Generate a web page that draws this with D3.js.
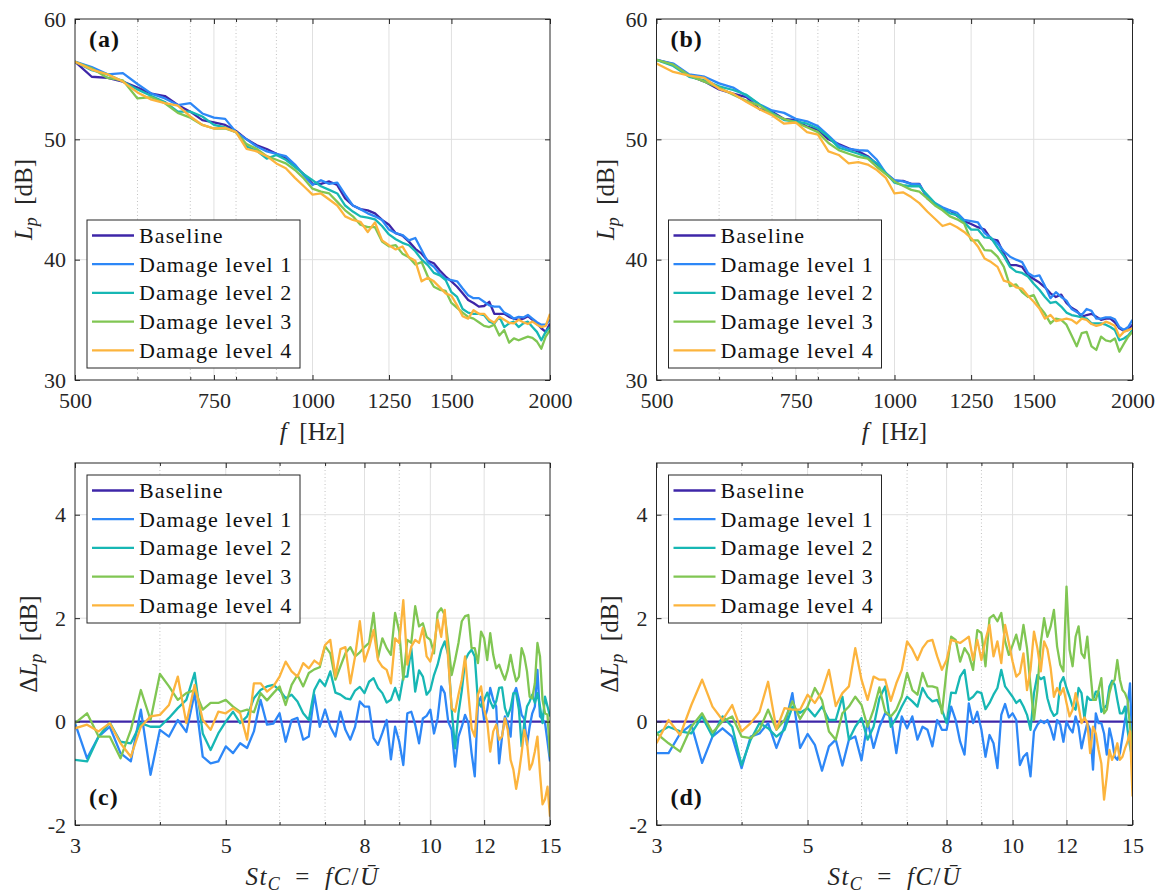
<!DOCTYPE html>
<html>
<head>
<meta charset="utf-8">
<script src="https://cdn.jsdelivr.net/npm/d3@7"></script>
<style>
  html, body { margin: 0; padding: 0; background: #fff; }
  svg { display: block; }
</style>
</head>
<body>
<div id="viz-container"></div>
<script>
// ---------- data ----------
const seriesNames = ["Baseline", "Damage level 1", "Damage level 2", "Damage level 3", "Damage level 4"];
const seriesColors = ["#3e26a8", "#2d87f7", "#17b7b4", "#80c653", "#fcb43d"];

// frequency grid (Hz) of the spectra, 25 Hz steps
const freqHz = d3.range(500, 2000 + 1, 25);
// Strouhal grid of the level differences
const stC = d3.range(3, 15 + 1e-9, 0.125);
// baseline difference is zero over the whole band
const stEnds = [3, 15];
const dlpBaseline = [0, 0];

// tick labels
const lpTicks = [30, 40, 50, 60];
const fTicks = [500, 750, 1000, 1250, 1500, 2000];
const fMinor = [600, 700, 800, 900];
const dlpTicks = [-2, 0, 2, 4];
const stTicks = [3, 5, 8, 10, 12, 15];
const stMinor = [4, 6, 7, 9];

// (a) Lp [dB]
const lpA_baseline = [56.45,55.2,55.1,54.8,54.3,53.8,53.6,52.85,52.3,51.6,51.4,51.2,50.7,50.0,49.5,49.2,48.8,48.4,47.8,47.1,
  46.3,46.3,46.5,46.2,45.1,44.5,44.2,44.1,43.85,43.3,42.9,42.2,42.0,41.5,40.9,40.5,39.9,39.7,39.1,38.6,
  38.2,37.75,37.2,36.65,36.4,36.1,36.15,36.5,35.5,35.5,35.5,35.25,35.1,35.0,35.1,35.3,35.0,34.7,34.3,34.0,34.7];
const lpA_dl1 = [56.45,56.0,55.4,55.5,54.6,53.8,53.4,52.85,53.0,52.15,51.8,51.7,50.6,50.0,49.4,49.0,48.8,48.6,47.9,47.0,
  46.2,46.6,46.3,46.4,45.4,44.5,44.2,43.85,43.6,43.3,42.5,42.2,42.05,41.6,41.8,40.8,39.8,39.4,38.8,38.4,
  38.3,38.2,37.6,37.05,36.8,36.8,36.5,36.2,36.1,36.1,35.6,35.4,35.1,35.25,35.2,35.4,35.1,34.8,34.6,34.6,35.0];
const lpA_dl2 = [56.45,55.75,55.4,54.8,54.15,53.6,53.1,52.3,52.3,51.9,51.2,51.0,50.6,49.4,49.05,48.4,48.7,48.3,47.7,47.1,
  46.6,46.1,45.8,45.5,44.5,44.0,43.6,43.5,43.35,42.8,42.1,41.7,41.4,41.2,40.7,40.0,39.55,38.9,38.7,38.3,
  37.3,36.9,35.9,35.6,35.5,35.5,35.4,34.85,34.7,35.25,34.4,34.7,34.85,34.4,34.7,34.85,34.4,34.0,33.3,34.0,34.4];
const lpA_dl3 = [56.45,55.9,55.1,54.9,53.4,53.5,53.0,52.2,51.8,51.2,50.9,50.9,50.6,49.6,49.2,48.6,48.3,48.0,47.45,46.75,
  45.9,45.65,45.5,44.8,44.1,43.6,42.9,42.7,42.7,41.5,41.1,41.2,40.5,40.2,39.6,39.8,38.6,37.75,37.5,37.4,
  36.4,36.0,35.6,35.25,35.1,34.8,34.5,34.4,34.6,33.7,34.15,33.1,33.46,33.3,33.46,33.6,33.5,33.2,32.6,33.6,34.15];
const lpA_dl4 = [56.45,55.8,55.4,54.8,53.9,53.3,53.0,52.8,51.9,51.2,50.9,50.95,50.6,49.2,49.0,48.6,48.0,47.6,46.8,46.1,
  45.4,45.5,45.0,44.5,43.6,43.3,43.15,42.3,43.1,41.6,41.2,40.85,41.1,40.2,39.9,38.2,38.5,38.2,37.7,37.2,
  37.0,36.2,35.3,35.1,35.8,35.5,35.5,35.0,34.75,35.25,35.0,34.75,34.7,35.0,34.8,34.65,34.85,34.6,34.4,34.5,35.5];

// (b) Lp [dB]
const lpB_baseline = [56.6,56.25,55.3,54.8,54.15,53.8,53.5,52.5,52.3,51.7,51.6,51.05,50.8,50.0,49.6,49.25,49.0,48.6,47.95,47.2,
  46.55,46.55,46.3,46.3,45.1,44.6,44.2,44.1,43.65,43.2,42.96,42.7,42.5,41.7,41.6,40.5,39.55,39.55,39.4,38.7,
  38.4,38.1,37.7,37.2,36.9,37.1,36.4,36.0,35.75,35.25,35.4,35.5,35.25,35.0,35.1,35.1,34.8,34.3,34.1,34.15,34.6];
const lpB_dl1 = [56.6,56.3,55.4,55.2,54.65,54.3,53.6,52.9,52.4,52.2,51.7,51.5,51.1,50.3,49.5,49.2,49.1,49.05,48.3,47.2,
  46.6,46.5,46.3,46.25,45.2,44.7,44.35,44.1,43.9,43.3,43.2,43.1,42.2,41.8,41.35,40.7,40.25,40.0,39.8,38.9,
  38.6,38.7,37.8,36.8,37.3,36.9,36.6,35.9,35.65,35.4,35.9,35.75,35.1,35.1,35.2,35.2,35.05,34.4,34.15,34.4,35.0];
const lpB_dl2 = [56.6,56.1,55.2,54.9,54.4,54.1,53.7,52.9,52.2,51.6,51.5,51.3,50.9,50.2,49.3,49.05,48.8,48.5,48.0,47.2,
  46.4,46.2,46.1,46.1,45.4,44.7,44.2,43.85,43.7,43.1,42.5,42.5,41.85,41.8,41.0,40.3,39.4,39.0,38.9,38.6,
  38.0,37.5,36.9,36.4,36.5,36.1,35.6,35.4,35.3,35.2,35.1,34.7,34.7,34.7,34.6,34.4,34.15,33.3,33.45,33.7,34.15];
const lpB_dl3 = [56.6,56.2,55.3,54.8,54.3,53.7,53.2,52.8,52.1,51.7,51.4,51.0,50.6,49.7,49.1,48.8,48.55,48.4,47.7,47.1,
  46.5,46.15,45.8,45.65,45.1,44.5,44.1,43.6,43.35,43.0,41.6,41.6,40.8,40.75,40.25,39.4,37.8,37.95,37.3,36.9,
  37.05,36.1,35.5,34.7,35.1,35.0,34.6,33.7,32.8,33.9,34.0,32.8,32.5,33.6,33.3,33.2,33.45,32.35,33.0,33.6,34.0];
const lpB_dl4 = [56.3,55.6,55.3,55.1,54.2,53.8,53.1,52.5,52.0,51.3,51.4,50.6,50.4,49.0,48.7,48.0,48.1,47.9,47.45,46.8,
  45.5,45.6,45.2,44.7,44.0,43.4,42.8,43.0,42.7,42.3,41.8,41.1,40.1,39.8,39.4,38.25,38.1,37.7,37.6,37.0,
  36.5,35.95,35.1,35.4,34.9,35.0,35.1,35.0,34.7,35.1,35.0,34.65,34.5,34.6,34.85,34.7,34.5,33.6,34.0,34.15,34.3];

// (c) delta Lp [dB]
const dlpC_dl1 = [-0.03,-0.71,-0.29,-0.10,-0.61,-0.77,0.23,-1.03,
  -0.16,-0.29,0.03,-0.20,0.55,-0.68,-0.81,-0.77,
  -0.48,-0.61,-0.42,-0.51,-0.19,0.42,-0.06,-0.04,
  0.16,-0.39,0.03,0.07,-0.35,-0.29,0.52,-0.10,
  0.23,-0.10,-0.29,0.19,-0.16,-0.35,-0.10,0.39,
  0.29,0.29,-0.32,-0.45,-0.22,0.03,-0.73,-0.10,
  -0.39,-0.84,0.16,0.19,-0.06,-0.42,0.06,0.11,
  0.23,-0.23,0.06,0.68,0.55,0.00,-0.16,-0.87,
  -0.29,-0.10,0.13,-0.03,-0.61,-1.06,0.36,0.48,
  0.03,0.23,0.65,0.42,0.29,-0.81,-0.29,0.10,
  -0.03,-0.29,0.52,0.65,0.42,0.13,0.05,-0.45,
  -0.10,0.16,0.29,1.00,0.10,0.05,-0.03,-0.39,
  -0.77];
const dlpC_dl2 = [-0.74,-0.77,-0.29,-0.02,-0.39,-0.42,-0.03,-0.10,
  -0.10,0.07,0.26,0.42,0.94,-0.23,-0.55,-0.23,
  0.00,0.19,-0.03,0.10,0.45,0.61,0.68,0.71,
  0.61,0.45,0.52,0.39,0.16,0.03,0.61,0.81,
  0.69,0.97,0.56,0.52,0.45,0.43,0.60,0.67,
  0.55,0.77,0.84,0.65,0.55,0.37,0.42,0.65,
  0.42,0.87,0.87,1.42,0.58,0.99,0.87,0.52,
  0.61,0.90,1.10,1.39,1.55,1.29,0.23,-0.52,
  0.16,0.60,1.18,1.31,1.39,1.26,0.39,0.29,
  0.42,0.56,0.39,0.26,0.39,0.65,0.66,0.26,
  0.10,0.26,0.55,0.55,0.23,-0.48,-0.03,0.29,
  0.39,0.52,0.36,0.55,0.29,-0.03,0.48,0.29,
  0.10];
const dlpC_dl3 = [-0.03,0.16,-0.29,-0.29,-0.71,-0.16,0.61,0.03,
  0.92,0.68,0.42,0.55,0.61,0.23,0.36,0.36,
  0.42,0.29,0.19,0.23,0.18,0.55,0.41,0.55,
  0.68,0.32,0.71,0.90,0.68,0.94,1.01,1.05,
  1.46,1.32,0.81,1.07,1.32,1.44,1.26,1.34,
  1.44,1.52,2.10,1.23,1.61,1.42,1.29,2.10,
  1.74,0.81,1.58,1.52,2.23,1.84,1.90,1.64,
  1.58,1.32,2.10,2.19,2.06,1.52,0.90,1.19,
  1.52,1.94,2.04,2.06,1.42,1.42,1.13,1.74,
  1.61,1.19,1.71,1.29,1.03,1.10,0.94,0.81,
  1.00,1.29,1.00,0.78,0.87,1.42,1.26,0.97,
  0.48,0.45,0.74,1.52,1.26,0.42,0.16,0.13,
  -0.68];
const dlpC_dl4 = [-0.13,-0.06,-0.19,-0.03,-0.42,-0.68,-0.10,0.10,
  0.13,0.32,0.87,-0.03,0.71,0.03,-0.16,0.19,
  0.16,0.26,0.16,-0.35,0.74,0.74,0.58,0.68,
  0.87,1.16,0.97,0.87,1.13,1.03,1.18,1.10,
  1.48,1.58,0.87,1.40,1.44,0.74,1.26,1.94,
  1.16,1.42,1.77,1.19,1.06,1.00,0.74,1.61,
  1.52,2.35,1.10,1.45,1.58,1.52,1.81,1.26,
  1.16,1.45,1.97,1.64,2.16,1.19,0.26,0.19,
  0.52,0.81,1.26,0.55,-0.13,-0.29,0.52,0.68,
  0.23,0.00,-0.58,-0.19,-0.06,-0.35,-0.29,0.06,
  -0.16,-0.74,-0.93,-1.30,-1.00,-0.61,-0.16,-0.39,
  -0.93,-0.81,-0.58,-0.29,-1.00,-1.60,-1.50,-1.26,
  -1.84];

// (d) delta Lp [dB]
const dlpD_dl1 = [-0.61,-0.61,-0.23,-0.06,-0.80,-0.29,-0.13,-0.29,
  -0.90,-0.29,-0.23,-0.03,-0.51,-0.10,0.55,-0.51,
  -0.24,-0.45,-0.95,-0.48,-0.35,-0.85,-0.35,-0.29,
  -0.75,0.00,-0.51,-0.10,0.16,0.10,-0.61,0.10,
  -0.13,0.10,-0.35,-0.10,-0.16,-0.48,0.03,-0.16,
  -0.16,0.29,0.03,-0.39,-0.64,0.35,-0.03,0.19,
  -0.16,-0.68,-0.26,-0.42,-0.90,0.13,0.34,0.08,
  0.16,0.03,-0.84,-0.68,-0.61,-1.06,-0.19,-0.06,
  0.02,-0.03,0.03,-0.13,-0.35,0.03,-0.06,-0.39,
  0.00,-0.13,-0.21,0.10,-0.10,-0.52,-0.26,-0.03,
  -0.16,-0.93,0.16,-0.03,-0.03,-0.23,-0.64,-0.13,
  -0.35,-0.68,-0.74,-0.61,-0.29,0.03,0.29,0.74,
  -0.61];
const dlpD_dl2 = [-0.23,-0.10,-0.19,-0.23,0.10,-0.29,0.10,-0.10,
  -0.84,-0.35,-0.03,-0.13,-0.29,-0.16,0.29,0.17,
  0.26,0.10,0.29,0.03,0.03,0.48,-0.35,-0.10,
  0.07,-0.35,-0.10,0.45,0.68,-0.10,0.07,0.29,
  0.48,0.39,0.29,0.65,0.48,0.39,0.42,0.23,
  -0.03,0.56,0.55,0.87,1.00,0.42,0.48,0.58,
  0.55,0.24,0.36,0.52,0.65,1.00,0.68,0.58,
  0.48,0.36,0.42,0.29,0.13,-0.16,0.55,0.90,
  0.82,0.86,0.45,0.23,0.11,0.16,0.74,0.86,
  0.65,0.48,0.29,0.23,0.65,0.55,0.06,0.48,
  0.42,0.42,0.58,0.58,0.19,0.26,0.32,0.68,
  0.79,0.71,0.42,0.16,0.16,0.29,-0.16,-0.48,
  -0.74];
const dlpD_dl3 = [-0.23,-0.42,-0.58,-0.10,0.16,-0.21,0.00,0.10,
  -0.29,-0.32,-0.16,0.23,-0.16,0.03,0.39,0.05,
  0.29,0.65,0.41,-0.19,-0.35,0.16,0.29,0.48,
  0.32,-0.10,0.23,0.66,0.19,0.10,0.23,0.48,
  0.94,0.61,0.52,0.94,0.68,0.68,0.65,0.16,
  1.00,1.64,1.58,1.16,1.42,1.29,1.00,1.77,
  1.71,1.07,2.00,2.06,1.94,2.10,1.55,1.29,
  1.48,1.68,1.39,1.87,1.42,0.68,0.03,0.61,
  1.52,2.00,1.64,1.84,2.16,1.45,1.10,0.97,
  2.61,1.39,1.07,1.64,1.84,1.32,1.23,1.64,
  1.00,0.42,0.42,0.61,0.84,0.16,0.23,0.55,
  0.74,0.81,1.19,0.81,0.61,0.55,0.42,-0.10,
  -0.48];
const dlpD_dl4 = [-0.42,0.03,-0.26,0.32,0.81,0.29,0.03,0.32,
  -0.19,-0.03,0.19,0.77,-0.15,0.26,0.23,0.23,
  0.52,0.36,0.58,1.00,0.30,0.55,0.68,1.42,
  0.81,0.42,0.87,0.81,0.81,0.40,0.74,1.00,
  1.55,1.40,1.19,1.42,1.55,1.58,1.26,1.00,
  1.19,1.58,1.55,1.52,1.58,1.64,1.19,1.58,
  1.19,1.58,1.87,1.26,1.55,1.13,1.87,1.52,
  1.16,0.87,0.94,1.32,0.61,1.00,1.74,1.42,
  0.97,1.55,1.40,1.03,0.48,0.65,0.52,0.65,
  0.36,0.10,0.23,0.55,0.29,-0.03,0.08,-0.03,
  -0.61,-0.10,-0.23,-0.55,-0.81,-1.51,-1.06,-0.55,
  -0.74,-0.61,-0.42,-0.74,-0.68,-0.52,-0.39,-0.19,
  -1.45];

// ---------- drawing ----------
const FONT = '"Liberation Serif", "Times New Roman", serif';
const INK = "#262626";

const svg = d3.select("#viz-container")
    .append("svg")
    .attr("width", 1162)
    .attr("height", 893)
    .attr("font-family", FONT);

function spectra(arrs) {
    return arrs.map(ys => ({ xs: freqHz, ys }));
}
function deltas(arrs) {
    return [{ xs: stEnds, ys: dlpBaseline }].concat(arrs.map(ys => ({ xs: stC, ys })));
}

function labelLp(t) {
    t.append("tspan").attr("font-style", "italic").text("L");
    t.append("tspan").attr("font-style", "italic").attr("font-size", 18).attr("dy", 5).text("p");
    t.append("tspan").attr("dy", -5).text("\u2002[dB]");
}
function labelDeltaLp(t) {
    t.append("tspan").text("\u0394");
    labelLp(t);
}
function labelF(t) {
    t.append("tspan").attr("font-style", "italic").text("f");
    t.append("tspan").text("\u2002[Hz]");
}
function labelSt(t) {
    t.append("tspan").attr("font-style", "italic").text("St");
    t.append("tspan").attr("font-style", "italic").attr("font-size", 18).attr("dy", 5).text("C");
    t.append("tspan").attr("dy", -5).text("\u2002=\u2002");
    t.append("tspan").attr("font-style", "italic").text("fC");
    t.append("tspan").text("/");
    t.append("tspan").attr("font-style", "italic").text("\u016A");
}

function drawPanel(p) {
    const x = d3.scaleLog().domain(p.xDomain).range([p.x0, p.x1]);
    const y = d3.scaleLinear().domain(p.yDomain).range([p.y1, p.y0]);
    const g = svg.append("g");

    // 1. grid
    g.append("g").selectAll("line").data(p.xMinor).join("line")
        .attr("x1", d => x(d)).attr("x2", d => x(d))
        .attr("y1", p.y0).attr("y2", p.y1)
        .attr("stroke", "#c2c2c2").attr("stroke-dasharray", "1,2.5");
    g.append("g").selectAll("line").data(p.xTicks.slice(1, -1)).join("line")
        .attr("x1", d => x(d)).attr("x2", d => x(d))
        .attr("y1", p.y0).attr("y2", p.y1)
        .attr("stroke", "#e0e0e0");
    g.append("g").selectAll("line").data(p.yTicks.filter(v => v > p.yDomain[0] && v < p.yDomain[1])).join("line")
        .attr("x1", p.x0).attr("x2", p.x1)
        .attr("y1", d => y(d)).attr("y2", d => y(d))
        .attr("stroke", "#e0e0e0");

    // 2. series
    const clipId = "clip-" + p.id;
    g.append("clipPath").attr("id", clipId).append("rect")
        .attr("x", p.x0).attr("y", p.y0)
        .attr("width", p.x1 - p.x0).attr("height", p.y1 - p.y0);
    const line = d3.line().x(d => x(d[0])).y(d => y(d[1]));
    g.append("g").attr("clip-path", `url(#${clipId})`)
        .selectAll("path").data(p.series).join("path")
        .attr("fill", "none")
        .attr("stroke", (d, i) => seriesColors[i])
        .attr("stroke-width", 2.3)
        .attr("stroke-linejoin", "round")
        .attr("d", d => line(d3.zip(d.xs, d.ys)));

    // 3. axes, ticks point inward on all four sides
    const fmt = d => String(d);
    const styleAxis = a => a.attr("font-family", FONT).attr("font-size", 22).attr("color", INK)
        .call(s => s.select(".domain").remove());
    g.append("g").attr("transform", `translate(0,${p.y1})`)
        .call(d3.axisBottom(x).tickValues(p.xTicks).tickFormat(fmt).tickSizeInner(-5).tickSizeOuter(0).tickPadding(12))
        .call(styleAxis);
    g.append("g").attr("transform", `translate(0,${p.y1})`)
        .call(d3.axisBottom(x).tickValues(p.xMinor).tickFormat("").tickSizeInner(-3).tickSizeOuter(0))
        .call(styleAxis);
    g.append("g").attr("transform", `translate(0,${p.y0})`)
        .call(d3.axisTop(x).tickValues(p.xTicks).tickFormat("").tickSizeInner(-5).tickSizeOuter(0))
        .call(styleAxis);
    g.append("g").attr("transform", `translate(0,${p.y0})`)
        .call(d3.axisTop(x).tickValues(p.xMinor).tickFormat("").tickSizeInner(-3).tickSizeOuter(0))
        .call(styleAxis);
    g.append("g").attr("transform", `translate(${p.x0},0)`)
        .call(d3.axisLeft(y).tickValues(p.yTicks).tickFormat(fmt).tickSizeInner(-5).tickSizeOuter(0).tickPadding(9))
        .call(styleAxis);
    g.append("g").attr("transform", `translate(${p.x1},0)`)
        .call(d3.axisRight(y).tickValues(p.yTicks).tickFormat("").tickSizeInner(-5).tickSizeOuter(0))
        .call(styleAxis);

    // 4. frame
    g.append("rect")
        .attr("x", p.x0).attr("y", p.y0)
        .attr("width", p.x1 - p.x0).attr("height", p.y1 - p.y0)
        .attr("fill", "none").attr("stroke", INK).attr("stroke-width", 1);

    // 5. axis titles
    g.append("text")
        .attr("x", (p.x0 + p.x1) / 2)
        .attr("y", p.y1 + 60)
        .attr("text-anchor", "middle")
        .attr("font-size", 25)
        .attr("letter-spacing", p.xLabelSpacing)
        .attr("fill", INK)
        .call(p.xLabel);
    g.append("text")
        .attr("transform", `translate(${p.x0 + p.yLabelDx},${(p.y0 + p.y1) / 2}) rotate(-90)`)
        .attr("text-anchor", "middle")
        .attr("font-size", 25)
        .attr("fill", INK)
        .call(p.yLabel);

    // 6. panel tag
    g.append("text")
        .attr("x", p.x0 + 14)
        .attr("y", p.tagY)
        .attr("font-size", 24)
        .attr("font-weight", "bold")
        .attr("letter-spacing", 1)
        .attr("fill", "#111")
        .text(p.tag);

    // 7. legend
    const lg = g.append("g");
    lg.append("rect")
        .attr("x", p.x0 + 12).attr("y", p.legendTop)
        .attr("width", 213).attr("height", 148)
        .attr("fill", "#fff").attr("stroke", INK).attr("stroke-width", 1);
    const rows = lg.selectAll("g").data(seriesNames).join("g")
        .attr("transform", (d, i) => `translate(0,${p.legendTop + 15.5 + i * 28.7})`);
    rows.append("line")
        .attr("x1", p.x0 + 17).attr("x2", p.x0 + 59)
        .attr("stroke", (d, i) => seriesColors[i])
        .attr("stroke-width", 2.3);
    rows.append("text")
        .attr("x", p.x0 + 64)
        .attr("y", 7.5)
        .attr("font-size", 22)
        .attr("letter-spacing", 1.1)
        .attr("fill", "#111")
        .text(d => d);
}

const topCfg = { y0: 19, y1: 380, xDomain: [500, 2000], yDomain: [30, 60],
    xTicks: fTicks, xMinor: fMinor, yTicks: lpTicks,
    xLabel: labelF, xLabelSpacing: 0, yLabel: labelLp, yLabelDx: -43, tagY: 47, legendTop: 220 };
const botCfg = { y0: 463, y1: 825, xDomain: [3, 15], yDomain: [-2, 5],
    xTicks: stTicks, xMinor: stMinor, yTicks: dlpTicks,
    xLabel: labelSt, xLabelSpacing: 1.5, yLabel: labelDeltaLp, yLabelDx: -38.5, tagY: 805, legendTop: 475 };

drawPanel({ ...topCfg, id: "a", tag: "(a)", x0: 75, x1: 550,
    series: spectra([lpA_baseline, lpA_dl1, lpA_dl2, lpA_dl3, lpA_dl4]) });
drawPanel({ ...topCfg, id: "b", tag: "(b)", x0: 656.5, x1: 1132.5,
    series: spectra([lpB_baseline, lpB_dl1, lpB_dl2, lpB_dl3, lpB_dl4]) });
drawPanel({ ...botCfg, id: "c", tag: "(c)", x0: 75, x1: 550,
    series: deltas([dlpC_dl1, dlpC_dl2, dlpC_dl3, dlpC_dl4]) });
drawPanel({ ...botCfg, id: "d", tag: "(d)", x0: 656.5, x1: 1132.5,
    series: deltas([dlpD_dl1, dlpD_dl2, dlpD_dl3, dlpD_dl4]) });
</script>
</body>
</html>
